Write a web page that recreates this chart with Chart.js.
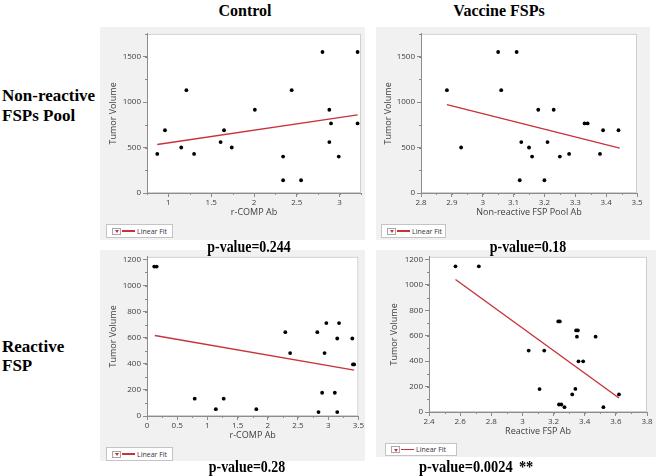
<!DOCTYPE html>
<html><head><meta charset="utf-8">
<script src="https://cdn.jsdelivr.net/npm/chart.js@4.4.1/dist/chart.umd.min.js"></script>
<style>
body{margin:0;width:660px;height:476px;background:#fff;position:relative;overflow:hidden;}
.panel{position:absolute;background:#f1f1f1;}
.panel canvas{position:absolute;left:0;top:0;}
.lbl{position:absolute;font-family:"Liberation Serif","Times New Roman",serif;font-weight:bold;color:#000;white-space:nowrap;line-height:1;}
.ctr{transform:translate(-50%,-50%);}
.pv{font-size:17px;transform:translate(-50%,-50%) scaleX(0.82);}
.pvl{font-size:17px;transform-origin:0 50%;transform:translate(0,-50%) scaleX(0.85);word-spacing:3px;}
.legend{position:absolute;background:#fff;border:1px solid #c4c4c4;box-sizing:border-box;font-family:"Open Sans",sans-serif;font-size:7px;color:#333;display:flex;align-items:center;}
.legend .ico{width:9px;height:7px;border:1px solid #a8a8a8;box-sizing:border-box;margin-left:5px;position:relative;background:#fff;}
.legend .ico:after{content:"";position:absolute;left:1.5px;top:1.5px;border-left:2.5px solid transparent;border-right:2.5px solid transparent;border-top:3px solid #c8323c;}
.legend .ln{width:13px;height:1.5px;background:#c8323c;margin:0 2px 0 1px;}
</style>
</head><body>
<div class="lbl ctr" style="left:245px;top:11px;font-size:16px">Control</div>
<div class="lbl ctr" style="left:499px;top:11px;font-size:16px">Vaccine FSPs</div>
<div class="lbl" style="left:2px;top:87px;font-size:17px">Non-reactive</div>
<div class="lbl" style="left:2px;top:107px;font-size:17px">FSPs Pool</div>
<div class="lbl" style="left:2px;top:338px;font-size:17px">Reactive</div>
<div class="lbl" style="left:2px;top:357px;font-size:17px">FSP</div>

<div class="panel" style="left:100px;top:27px;width:265px;height:213px"><canvas id="c1" width="265" height="213"></canvas></div>
<div class="panel" style="left:376px;top:27px;width:274px;height:213px"><canvas id="c2" width="274" height="213"></canvas></div>
<div class="panel" style="left:100px;top:250px;width:265px;height:211px"><canvas id="c3" width="265" height="211"></canvas></div>
<div class="panel" style="left:376px;top:250px;width:280px;height:207px"><canvas id="c4" width="280" height="207"></canvas></div>

<div class="legend" style="left:106px;top:224px;width:67px;height:14px"><span class="ico"></span><span class="ln"></span>Linear Fit</div>
<div class="legend" style="left:381px;top:224px;width:65px;height:14px"><span class="ico"></span><span class="ln"></span>Linear Fit</div>
<div class="legend" style="left:106px;top:447px;width:67px;height:14px"><span class="ico"></span><span class="ln"></span>Linear Fit</div>
<div class="legend" style="left:385px;top:443px;width:72px;height:13px"><span class="ico"></span><span class="ln"></span>Linear Fit</div>

<div class="lbl pv" style="left:249px;top:246px">p-value=0.244</div>
<div class="lbl pv" style="left:528px;top:246px">p-value=0.18</div>
<div class="lbl pv" style="left:247px;top:466px">p-value=0.28</div>
<div class="lbl pvl" style="left:419px;top:466px">p-value=0.0024 **</div>

<script>
// ---------- data ----------
const ctrlPoolX = [0.87, 0.96, 1.15, 1.21, 1.30, 1.61, 1.65, 1.74, 2.01, 2.34, 2.34, 2.44, 2.55, 2.80, 2.88, 2.88, 2.90, 2.99, 3.21, 3.21];
const ctrlPoolY = [430, 690, 500, 1130, 430, 560, 690, 500, 915, 400, 140, 1130, 140, 1550, 915, 560, 765, 400, 1550, 765];
const ctrlPoolFitX = [0.87, 3.21];
const ctrlPoolFitY = [533, 859];

const vacPoolX = [2.884, 2.93, 3.05, 3.06, 3.11, 3.12, 3.125, 3.15, 3.16, 3.18, 3.20, 3.21, 3.23, 3.25, 3.28, 3.33, 3.34, 3.39, 3.44, 3.38];
const vacPoolY = [1130, 500, 1550, 1130, 1550, 140, 560, 500, 400, 915, 140, 560, 915, 400, 430, 765, 765, 690, 690, 430];
const vacPoolFitX = [2.884, 3.444];
const vacPoolFitY = [971, 494];

const ctrlReactX = [0.12, 0.16, 0.79, 1.14, 1.27, 1.81, 2.29, 2.37, 2.82, 2.84, 2.90, 2.94, 2.97, 3.11, 3.15, 3.15, 3.18, 3.40, 3.41, 3.43];
const ctrlReactY = [1145, 1145, 133, 52, 133, 52, 642, 482, 642, 30, 178, 482, 712, 178, 594, 30, 712, 594, 395, 395];
const ctrlReactFitX = [0.13, 3.43];
const ctrlReactFitY = [617, 352];

const vacReactX = [2.57, 2.72, 3.04, 3.11, 3.14, 3.23, 3.24, 3.345, 3.356, 3.35, 3.36, 3.34, 3.32, 3.235, 3.25, 3.27, 3.39, 3.47, 3.52, 3.62];
const vacReactY = [1145, 1145, 483, 180, 483, 712, 712, 641, 641, 592, 398, 181, 138, 59, 59, 38, 398, 592, 38, 138];
const vacReactFitX = [2.57, 3.62];
const vacReactFitY = [1042, 110];

// tick labels
const poolYTicks = [0, 500, 1000, 1500];
const reactYTicks = [0, 200, 400, 600, 800, 1000, 1200];
const ctrlPoolXTicks = [1, 1.5, 2, 2.5, 3];
const vacPoolXTicks = [2.8, 2.9, 3, 3.1, 3.2, 3.3, 3.4, 3.5];
const ctrlReactXTicks = [0, 0.5, 1, 1.5, 2, 2.5, 3, 3.5];
const vacReactXTicks = [2.4, 2.6, 2.8, 3, 3.2, 3.4, 3.6, 3.8];

const xTitles = ['r-COMP Ab', 'Non-reactive FSP Pool Ab', 'r-COMP Ab', 'Reactive FSP Ab'];
const yTitle = 'Tumor Volume';

// ---------- drawing ----------
const RED = '#c8323c';
const AXIS = '#8c8c8c';
const TXT = '#404040';
const FONT = '"Open Sans", sans-serif';

const framePlugin = {
  id: 'frame',
  beforeDraw(c) {
    const a = c.chartArea, ctx = c.ctx;
    ctx.save();
    ctx.fillStyle = '#ffffff';
    ctx.fillRect(a.left, a.top, a.right - a.left, a.bottom - a.top);
    ctx.strokeStyle = '#cfcfcf';
    ctx.lineWidth = 1;
    ctx.strokeRect(a.left + 0.5, a.top + 0.5, a.right - a.left - 1, a.bottom - a.top - 1);
    ctx.restore();
  },
  afterDraw(c) {
    const o = c.options.plugins.frame || {};
    const ctx = c.ctx, a = c.chartArea;
    ctx.save();
    ctx.strokeStyle = AXIS;
    ctx.lineWidth = 1;
    const xs = c.scales.x, ys = c.scales.y;
    if (o.xMinor) {
      for (let v = xs.min; v <= xs.max + 1e-9; v += o.xMinor) {
        const p = Math.round(xs.getPixelForValue(v)) + 0.5;
        ctx.beginPath(); ctx.moveTo(p, a.bottom); ctx.lineTo(p, a.bottom + 2); ctx.stroke();
      }
    }
    if (o.yMinor) {
      for (let v = ys.min; v <= ys.max + 1e-9; v += o.yMinor) {
        const p = Math.round(ys.getPixelForValue(v)) + 0.5;
        ctx.beginPath(); ctx.moveTo(a.left, p); ctx.lineTo(a.left - 2, p); ctx.stroke();
      }
    }
    ctx.restore();
  }
};

function pts(xs, ys) { return xs.map((x, i) => ({ x: x, y: ys[i] })); }

function makeChart(id, d, L) {
  new Chart(document.getElementById(id), {
    data: {
      datasets: [
        { type: 'scatter', data: pts(d.x, d.y), pointRadius: 1.9, pointBackgroundColor: '#000', pointBorderWidth: 0, order: 1 },
        { type: 'line', data: pts(d.fx, d.fy), borderColor: RED, borderWidth: 1.4, pointRadius: 0, fill: false, order: 2 }
      ]
    },
    options: {
      responsive: false, animation: false, devicePixelRatio: 1,
      layout: { padding: { top: L.top, right: L.right, left: 0, bottom: 0 } },
      plugins: { legend: { display: false }, tooltip: { enabled: false }, frame: { xMinor: L.xMinor, yMinor: L.yMinor } },
      scales: {
        x: {
          type: 'linear', min: d.xMin, max: d.xMax,
          afterBuildTicks: s => { s.ticks = d.xTicks.map(v => ({ value: v })); },
          afterFit: s => { s.height = L.xH; },
          border: { display: true, color: AXIS },
          grid: { drawOnChartArea: false, drawTicks: true, tickLength: 4, color: AXIS },
          ticks: { padding: 1, color: TXT, font: { family: FONT, size: 8 }, maxRotation: 0, callback: v => String(v) },
          title: { display: true, text: d.xTitle, color: TXT, font: { family: FONT, size: 9 }, padding: { top: 0, bottom: L.xTitlePad } }
        },
        y: {
          type: 'linear', min: d.yMin, max: d.yMax,
          afterBuildTicks: s => { s.ticks = d.yTicks.map(v => ({ value: v })); },
          afterFit: s => { s.width = L.yW; },
          border: { display: true, color: AXIS },
          grid: { drawOnChartArea: false, drawTicks: true, tickLength: 4, color: AXIS },
          ticks: { padding: 2, color: TXT, font: { family: FONT, size: 8 }, callback: v => String(v) },
          title: { display: true, text: yTitle, color: TXT, font: { family: FONT, size: 9 }, padding: { top: L.yTitlePad, bottom: 0 } }
        }
      }
    },
    plugins: [framePlugin]
  });
}

makeChart('c1',
  { x: ctrlPoolX, y: ctrlPoolY, fx: ctrlPoolFitX, fy: ctrlPoolFitY, xMin: 0.75, xMax: 3.25, yMin: 0, yMax: 1750, xTicks: ctrlPoolXTicks, yTicks: poolYTicks, xTitle: xTitles[0] },
  { top: 4, right: 4, xH: 47, yW: 47, xTitlePad: 22, yTitlePad: 8, xMinor: 0.25, yMinor: 250 });
makeChart('c2',
  { x: vacPoolX, y: vacPoolY, fx: vacPoolFitX, fy: vacPoolFitY, xMin: 2.8, xMax: 3.5, yMin: 0, yMax: 1750, xTicks: vacPoolXTicks, yTicks: poolYTicks, xTitle: xTitles[1] },
  { top: 4, right: 13, xH: 47, yW: 45, xTitlePad: 22, yTitlePad: 7, xMinor: 0.05, yMinor: 250 });
makeChart('c3',
  { x: ctrlReactX, y: ctrlReactY, fx: ctrlReactFitX, fy: ctrlReactFitY, xMin: 0, xMax: 3.5, yMin: 0, yMax: 1220, xTicks: ctrlReactXTicks, yTicks: reactYTicks, xTitle: xTitles[2] },
  { top: 3, right: 4, xH: 45, yW: 47, xTitlePad: 20, yTitlePad: 8, xMinor: 0.25, yMinor: 100 });
makeChart('c4',
  { x: vacReactX, y: vacReactY, fx: vacReactFitX, fy: vacReactFitY, xMin: 2.4, xMax: 3.8, yMin: 0, yMax: 1220, xTicks: vacReactXTicks, yTicks: reactYTicks, xTitle: xTitles[3] },
  { top: 3, right: 9, xH: 45, yW: 53, xTitlePad: 20, yTitlePad: 13, xMinor: 0.1, yMinor: 100 });
</script>
</body></html>
